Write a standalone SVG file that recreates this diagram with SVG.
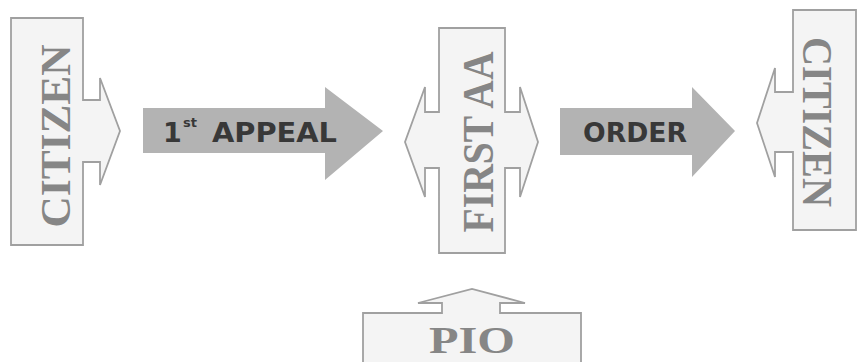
<svg xmlns="http://www.w3.org/2000/svg" width="858" height="362" viewBox="0 0 858 362">
<style>
.node{fill:#f4f4f4;stroke:#a0a0a0;stroke-width:1.8;stroke-linejoin:miter}
.ntxt{font-family:"Liberation Serif",serif;font-weight:bold;fill:#868686;text-anchor:middle}
.arrow{fill:#b3b3b3;stroke:none}
.atxt{font-family:"DejaVu Sans",sans-serif;font-weight:bold;fill:#383838}
</style>
<rect width="858" height="362" fill="#ffffff"/>
<g id="citizen-left">
<path class="node" d="M11,18 H83 V100 H100 V78 L120,131 L100,185 V162 H83 V245 H11 Z"/>
<text class="ntxt" font-size="42" transform="translate(70,136) rotate(-90)" textLength="183" lengthAdjust="spacingAndGlyphs">CITIZEN</text>
</g>
<g id="first-aa">
<path class="node" d="M439,28 H505 V112 H520 V87 L538,142 L520,197 V168 H505 V253 H439 V168 H425 V197 L405,142 L425,87 V112 H439 Z"/>
<text class="ntxt" font-size="44" transform="translate(493,142) rotate(-90)" textLength="181" lengthAdjust="spacingAndGlyphs">FIRST AA</text>
</g>
<g id="citizen-right">
<path class="node" d="M856,10 V230 H793 V152 H775 V177 L757,123 L775,68 V92 H793 V10 Z"/>
<text class="ntxt" font-size="42" transform="translate(803,122) rotate(90)" textLength="170" lengthAdjust="spacingAndGlyphs">CITIZEN</text>
</g>
<g id="pio">
<path class="node" d="M363,364 V313 H442 V303 H418 L472,289 L525,303 H500 V313 H581 V364"/>
<text class="ntxt" font-size="38" x="472" y="353" textLength="86" lengthAdjust="spacingAndGlyphs">PIO</text>
</g>
<g id="connectors">
<g id="appeal">
<path class="arrow" d="M143,108 H325 V87 L383,131 L325,180 V153 H143 Z"/>
<text class="atxt" font-size="27" x="163" y="142">1</text>
<text class="atxt" font-size="13" x="183" y="127">st</text>
<text class="atxt" font-size="27" x="212" y="142" textLength="125" lengthAdjust="spacingAndGlyphs">APPEAL</text>
</g>
<g id="order">
<path class="arrow" d="M560,108 H692 V87 L735,131 L692,177 V155 H560 Z"/>
<text class="atxt" font-size="27" x="583" y="142" textLength="104" lengthAdjust="spacingAndGlyphs">ORDER</text>
</g>
</g>
</svg>
